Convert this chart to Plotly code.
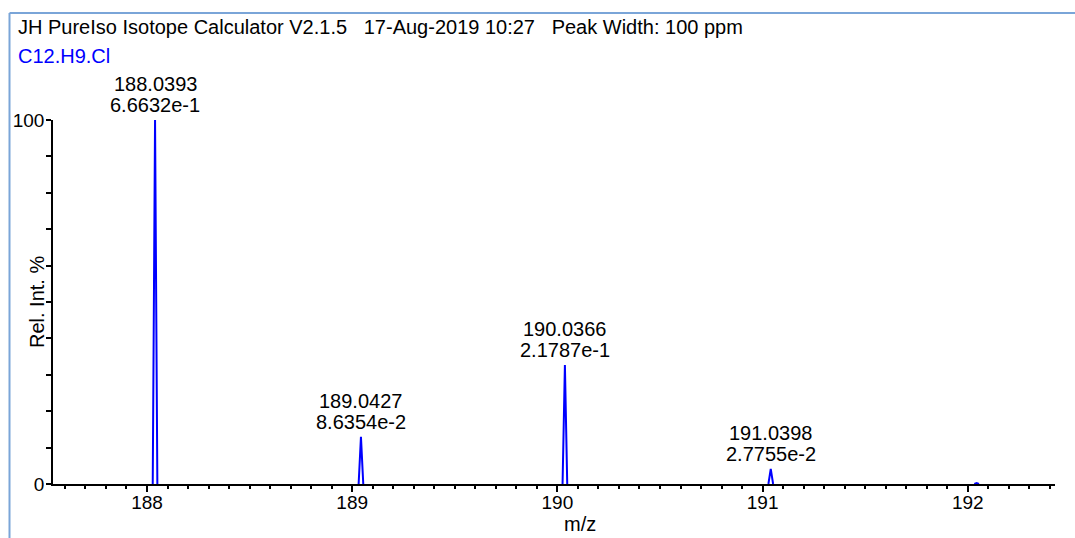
import plotly.graph_objects as go

# Isotope pattern of C12.H9.Cl (centroid m/z and absolute abundance)
formula = "C12.H9.Cl"
peak_mz = [188.0393, 189.0427, 190.0366, 191.0398, 192.0431]
peak_abund = [0.66632, 0.086354, 0.21787, 0.027755, 0.0015]
peak_labels = ["6.6632e-1", "8.6354e-2", "2.1787e-1", "2.7755e-2", None]
peak_width_ppm = 100

header = "JH PureIso Isotope Calculator V2.1.5   17-Aug-2019 10:27   Peak Width: 100 ppm"

W, H = 1075, 538
ML, MR, MT, MB = 53, 20, 120, 54
PW, PH = W - ML - MR, H - MT - MB


def px(x):
    return (x - ML) / PW


def py(y):
    return (H - MB - y) / PH


base = max(peak_abund)
rel = [a / base * 100 for a in peak_abund]

# Each peak drawn as a narrow profile scaled from the stated ppm width
xs, ys = [], []
for m, r in zip(peak_mz, rel):
    hw = 0.6 * m * peak_width_ppm * 1e-6
    xs += [m - hw, m, m + hw, None]
    ys += [0, r, 0, None]

fig = go.Figure()
fig.add_trace(go.Scatter(x=xs, y=ys, mode="lines",
                         line=dict(color="#0000ff", width=2),
                         hoverinfo="skip", showlegend=False, cliponaxis=False))

family = "Liberation Sans, Arial, sans-serif"
font = dict(family=family, size=20, color="#000000")

annotations = []
for m, r, lab in zip(peak_mz, rel, peak_labels):
    if lab is None:
        continue
    annotations.append(dict(x=m, y=r, xref="x", yref="y", text=lab,
                            showarrow=False, xanchor="center", yanchor="middle",
                            yshift=15, font=font))
    annotations.append(dict(x=m, y=r, xref="x", yref="y", text=f"{m:.4f}",
                            showarrow=False, xanchor="center", yanchor="middle",
                            yshift=36, font=font))

annotations.append(dict(x=px(16), y=py(27), xref="paper", yref="paper",
                        text=header.replace(" ", "\u00a0"), showarrow=False,
                        xanchor="left", yanchor="middle", font=font))
annotations.append(dict(x=px(16), y=py(56), xref="paper", yref="paper",
                        text=formula, showarrow=False,
                        xanchor="left", yanchor="middle",
                        font=dict(family=family, size=20, color="#0000ff")))
annotations.append(dict(x=px(580), y=py(524), xref="paper", yref="paper",
                        text="m/z", showarrow=False,
                        xanchor="center", yanchor="middle", font=font))
annotations.append(dict(x=px(37), y=py(302), xref="paper", yref="paper",
                        text="Rel. Int. %", showarrow=False, textangle=-90,
                        xanchor="center", yanchor="middle", font=font))

border = "#7aa5d8"
shapes = [
    dict(type="line", xref="paper", yref="paper",
         x0=px(9.5), x1=px(W + 5), y0=py(13), y1=py(13),
         line=dict(color=border, width=2)),
    dict(type="line", xref="paper", yref="paper",
         x0=px(9.5), x1=px(9.5), y0=py(13), y1=py(H + 5),
         line=dict(color=border, width=2)),
]

fig.update_layout(
    width=W, height=H,
    margin=dict(l=ML, r=MR, t=MT, b=MB, pad=0),
    paper_bgcolor="white", plot_bgcolor="white",
    annotations=annotations, shapes=shapes,
    font=font,
    xaxis=dict(range=[187.542, 192.425], showgrid=False, zeroline=False,
               showline=True, linecolor="black", linewidth=1.5,
               tick0=188, dtick=1, ticks="outside", ticklen=6, tickwidth=1.5,
               tickcolor="black", tickfont=dict(size=19),
               ticklabelstandoff=-6,
               minor=dict(tick0=188, dtick=0.1, ticks="outside", ticklen=3,
                          tickwidth=1.5, tickcolor="black")),
    yaxis=dict(range=[0, 100], showgrid=False, zeroline=False,
               showline=True, linecolor="black", linewidth=1.5,
               tickvals=[0, 100], ticks="outside", ticklen=5, tickwidth=1.5,
               tickcolor="black", tickfont=dict(size=19),
               ticklabelstandoff=-2,
               minor=dict(tick0=0, dtick=10, ticks="outside", ticklen=5,
                          tickwidth=1.5, tickcolor="black")),
)

fig.write_html("out.html")
